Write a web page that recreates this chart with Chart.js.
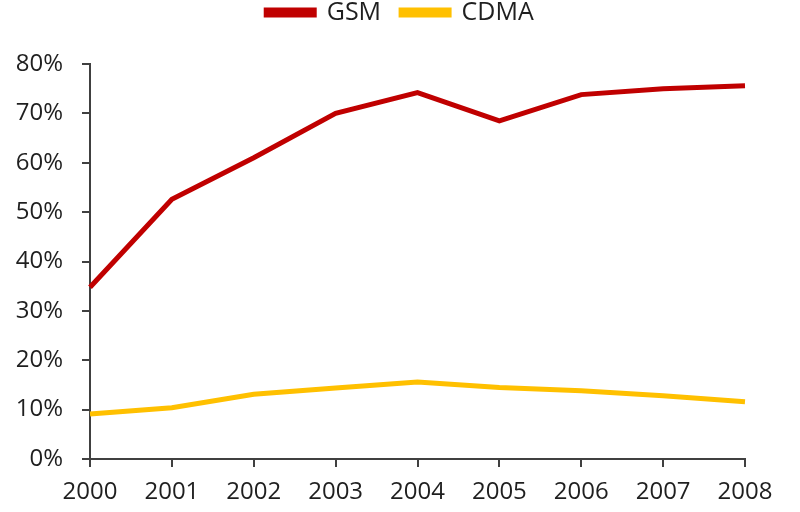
<!DOCTYPE html>
<html>
<head>
<meta charset="utf-8">
<script src="https://cdn.jsdelivr.net/npm/chart.js@4/dist/chart.umd.min.js"></script>
<style>
    html, body { margin: 0; padding: 0; background: #fff; }
    #wrap { width: 800px; height: 512px; }
</style>
</head>
<body>
<div id="wrap"><canvas id="shareChart"></canvas></div>
<script>
const years = ["2000", "2001", "2002", "2003", "2004", "2005", "2006", "2007", "2008"];
const gsmShare = [34.8, 52.6, 61.0, 70.0, 74.2, 68.5, 73.8, 75.0, 75.6];
const cdmaShare = [9.1, 10.4, 13.1, 14.4, 15.6, 14.5, 13.8, 12.8, 11.6];
const yTicks = [0, 10, 20, 30, 40, 50, 60, 70, 80];

const axisColor = "#404040";
const textColor = "#1f1f1f";
const fontFamily = "'Open Sans', 'Noto Sans', sans-serif";

new Chart(document.getElementById("shareChart"), {
    type: "line",
    data: {
        labels: years,
        datasets: [
            {
                label: "GSM",
                data: gsmShare,
                borderColor: "#C00000",
                backgroundColor: "#C00000",
                borderWidth: 5,
                pointRadius: 0,
                tension: 0
            },
            {
                label: "CDMA",
                data: cdmaShare,
                borderColor: "#FFC000",
                backgroundColor: "#FFC000",
                borderWidth: 5,
                pointRadius: 0,
                tension: 0
            }
        ]
    },
    options: {
        responsive: true,
        maintainAspectRatio: false,
        animation: false,
        layout: { padding: { top: -20, right: 0, bottom: 0, left: 0 } },
        plugins: {
            legend: {
                position: "top",
                labels: {
                    boxWidth: 48,
                    boxHeight: 5,
                    padding: 20,
                    color: textColor,
                    font: { family: fontFamily, size: 25 }
                }
            },
            // empty spacer between legend and plot
            subtitle: {
                display: true,
                text: "",
                weight: 500,
                font: { size: 1 },
                padding: { top: 27.8, bottom: 0 }
            },
            tooltip: { enabled: false }
        },
        scales: {
            x: {
                offset: false,
                grid: {
                    drawOnChartArea: false,
                    drawTicks: true,
                    tickLength: 8,
                    color: axisColor,
                    lineWidth: 2,
                    offset: false
                },
                border: { color: axisColor, width: 2 },
                ticks: {
                    color: textColor,
                    font: { family: fontFamily, size: 24 },
                    padding: 11,
                    maxRotation: 0,
                    autoSkip: false
                },
                afterFit: scale => { scale.height = 53; }
            },
            y: {
                min: 0,
                max: 80,
                afterBuildTicks: scale => {
                    scale.ticks = yTicks.map(v => ({ value: v }));
                },
                grid: {
                    drawOnChartArea: false,
                    drawTicks: true,
                    tickLength: 8,
                    color: axisColor,
                    lineWidth: 2
                },
                border: { color: axisColor, width: 2 },
                ticks: {
                    color: textColor,
                    font: { family: fontFamily, size: 24 },
                    padding: 19,
                    callback: v => v + "%"
                },
                afterFit: scale => { scale.width = 90; }
            },
            // invisible right axis, only reserves the blank margin
            yRight: {
                position: "right",
                min: 0,
                max: 80,
                grid: { display: false, drawTicks: false },
                border: { display: false },
                ticks: { display: false },
                afterFit: scale => { scale.width = 55; }
            }
        }
    }
});
</script>
</body>
</html>
